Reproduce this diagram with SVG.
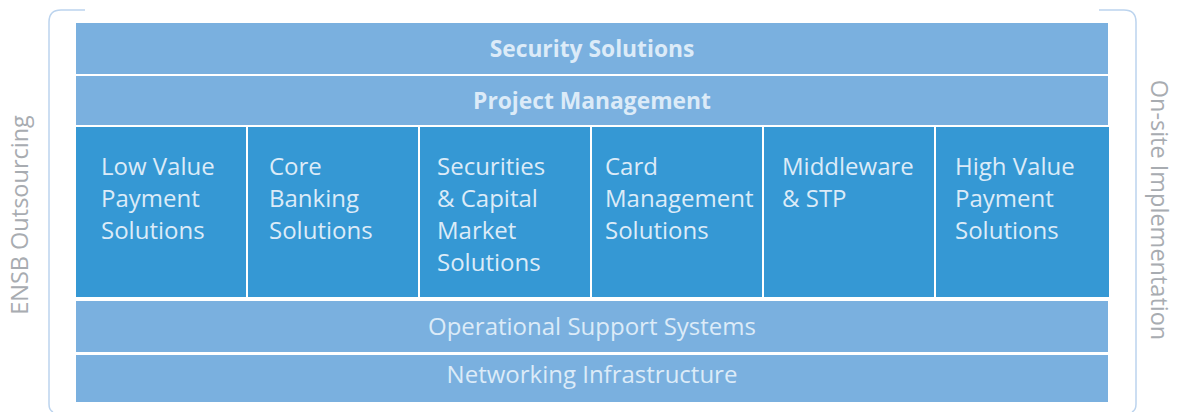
<svg xmlns="http://www.w3.org/2000/svg" width="1180" height="412" viewBox="0 0 1180 412">
<style>
.lt{fill:#7AB0DF}
.dk{fill:#3598D4}
.t{font-family:"Open Sans","Liberation Sans",sans-serif;fill:#DCEBF8;font-size:24px}
.b{font-weight:bold;font-size:22.8px}
.side{font-family:"Open Sans","Liberation Sans",sans-serif;fill:#A8ACB1;font-size:23.5px}
.br{fill:none;stroke:#BCD4EE;stroke-width:1.5}
</style>
<rect width="1180" height="412" fill="#FFFFFF"/>
<g id="connectors">
<path class="br" d="M85,10 H61 Q49,10 49,22 V404 Q49,410 53,412"/>
<path class="br" d="M1099,10 H1124 Q1136,10 1136,22 V404 Q1136,410 1132,412"/>
</g>
<g id="security"><rect class="lt" x="76" y="23" width="1032" height="51"/><text class="t b" x="592" y="57" text-anchor="middle">Security Solutions</text></g>
<g id="pm"><rect class="lt" x="76" y="76" width="1032" height="49"/><text class="t b" x="592" y="109" text-anchor="middle">Project Management</text></g>
<g id="col1"><rect class="dk" x="76" y="127" width="170" height="170"/><text class="t" x="101" y="174.5"><tspan x="101">Low Value</tspan><tspan x="101" dy="32">Payment</tspan><tspan x="101" dy="32">Solutions</tspan></text></g>
<g id="col2"><rect class="dk" x="248" y="127" width="170" height="170"/><text class="t" x="269" y="174.5"><tspan x="269">Core</tspan><tspan x="269" dy="32">Banking</tspan><tspan x="269" dy="32">Solutions</tspan></text></g>
<g id="col3"><rect class="dk" x="420" y="127" width="170" height="170"/><text class="t" x="437" y="174.5"><tspan x="437">Securities</tspan><tspan x="437" dy="32">&amp; Capital</tspan><tspan x="437" dy="32">Market</tspan><tspan x="437" dy="32">Solutions</tspan></text></g>
<g id="col4"><rect class="dk" x="592" y="127" width="170" height="170"/><text class="t" x="605" y="174.5"><tspan x="605">Card</tspan><tspan x="605" dy="32">Management</tspan><tspan x="605" dy="32">Solutions</tspan></text></g>
<g id="col5"><rect class="dk" x="764" y="127" width="170" height="170"/><text class="t" x="782" y="174.5"><tspan x="782">Middleware</tspan><tspan x="782" dy="32">&amp; STP</tspan></text></g>
<g id="col6"><rect class="dk" x="936" y="127" width="173" height="170"/><text class="t" x="955" y="174.5"><tspan x="955">High Value</tspan><tspan x="955" dy="32">Payment</tspan><tspan x="955" dy="32">Solutions</tspan></text></g>
<g id="oss"><rect class="lt" x="76" y="301" width="1032" height="51"/><text class="t" x="592" y="335" text-anchor="middle">Operational Support Systems</text></g>
<g id="net"><rect class="lt" x="76" y="355" width="1032" height="47"/><text class="t" x="592" y="383" text-anchor="middle">Networking Infrastructure</text></g>
<g id="ensb"><text class="side" transform="translate(28,215) rotate(-90)" text-anchor="middle">ENSB Outsourcing</text></g>
<g id="onsite"><text class="side" transform="translate(1151,210) rotate(90)" text-anchor="middle">On-site Implementation</text></g>
</svg>
